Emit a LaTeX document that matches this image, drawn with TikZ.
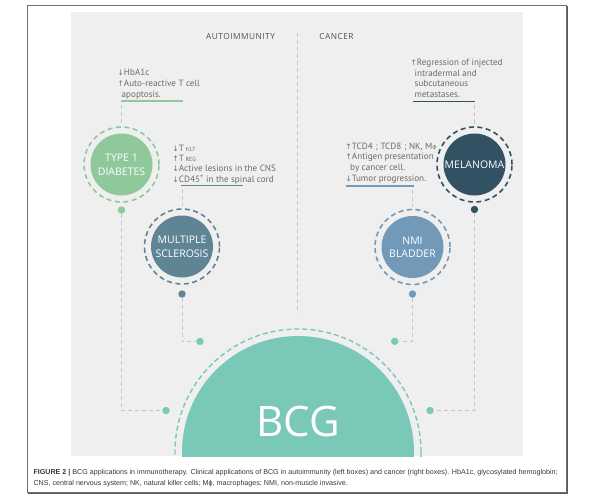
\documentclass[tikz,border=0pt]{standalone}
\usepackage{fontspec}
\setmainfont{Open Sans}
\newfontfamily\notefont{PT Sans}
\newfontfamily\arrfont{DejaVu Sans}
\newfontfamily\capfont{Liberation Sans}
\newfontfamily\ttlfont[LetterSpace=6]{Open Sans}
\newcommand\upar{{\arrfont\fontsize{7.5}{8}\selectfont ↑}}
\newcommand\dnar{{\arrfont\fontsize{7.5}{8}\selectfont ↓}}
\newcommand\smallsub[1]{{\fontsize{6}{6}\selectfont #1}}
\definecolor{panel}{HTML}{EFEFEF}
\definecolor{t1dc}{HTML}{8FC89A}
\definecolor{msc}{HTML}{5F8494}
\definecolor{melc}{HTML}{325263}
\definecolor{nmic}{HTML}{729AB8}
\definecolor{bcgc}{HTML}{79C8B8}
\definecolor{conng}{HTML}{C6C6C6}
\definecolor{txtg}{HTML}{6B6B6B}
\definecolor{ttlg}{HTML}{505050}
\definecolor{framec}{HTML}{707070}
\begin{document}
\begin{tikzpicture}[x=1pt,y=-1pt,
  notest/.style={font=\notefont\fontsize{9.1}{10}\selectfont, text=txtg, inner sep=0, anchor=base west},
  ttlst/.style={font=\ttlfont\fontsize{8.3}{9}\selectfont, text=ttlg, inner sep=0},
  discst/.style={circle, inner sep=0, minimum size=62pt, text=white, align=center, font=\fontsize{10.5}{14}\selectfont},
  ringst/.style={circle, draw, inner sep=0, minimum size=75pt, line width=1.6pt, dash pattern=on 5pt off 3.5pt},
  cdot/.style={circle, inner sep=0, minimum size=7.4pt},
  connst/.style={draw=conng, line width=1pt, dash pattern=on 4pt off 3pt},
  ulinest/.style={line width=1.5pt},
  capst/.style={font=\capfont\fontsize{7.15}{8}\selectfont, text=black!78, inner sep=0, anchor=base west}
]
\useasboundingbox (0,0) rectangle (599,500);
\fill[white] (0,0) rectangle (599,500);
% frame
\draw[framec, line width=1.2pt] (27.3,5.3) rectangle (566.7,492.7);
\draw[framec!80!black, line width=1pt] (567.4,6) -- (567.4,493.4) -- (28,493.4);
% panel
\fill[panel] (71,12) rectangle (523,456);
% titles
\node[ttlst] (autot) at (240.5,36.7) {AUTOIMMUNITY};
\node[ttlst] (cant) at (336.5,36.7) {CANCER};
\coordinate (ctop) at (297.7,33);
\coordinate (cbot) at (297.7,313);
\draw[connst] (ctop) -- (cbot);
% BCG
\begin{scope}
\clip (71,12) rectangle (523,456);
\fill[bcgc] (298,452) circle (116);
\draw[bcgc, line width=1.4pt, dash pattern=on 5pt off 3pt] (298,452) circle (123);
\end{scope}
\node[text=white, font=\fontsize{42}{42}\selectfont, inner sep=0] (bcg) at (298,421) {BCG};
% BCG dots
\node[cdot, fill=bcgc] (b1) at (166,410.5) {};
\node[cdot, fill=bcgc] (b2) at (200,341.5) {};
\node[cdot, fill=bcgc] (b3) at (394.7,341.3) {};
\node[cdot, fill=bcgc] (b4) at (430,410.5) {};
% Type 1 diabetes
\node[discst, fill=t1dc] (t1d) at (121.5,164.5) {TYPE 1\\DIABETES};
\node[ringst, draw=t1dc] (t1dring) at (121.5,164.5) {};
\node[cdot, fill=t1dc] (t1ddot) at (121.5,210) {};
\node[notest] (t1da) at (117.5,76) {\dnar HbA1c};
\node[notest] (t1db) at (117.5,86.7) {\upar Auto-reactive T cell};
\node[notest] (t1dc) at (121.5,97.3) {apoptosis.};
\coordinate (t1dl1) at (121,101);
\coordinate (t1dl2) at (183,101);
\draw[ulinest, t1dc] (t1dl1) -- (t1dl2);
\coordinate (t1dcs) at (121.5,105);
\draw[connst, shorten >=2pt] (t1dcs) -- (t1dring.north);
\coordinate (t1dk) at (121.5,410.5);
\draw[connst] (t1ddot) -- (t1dk) -- (b1);
% Multiple sclerosis
\node[discst, fill=msc] (ms) at (182,246.5) {MULTIPLE\\SCLEROSIS};
\node[ringst, draw=msc] (msring) at (182,246.5) {};
\node[cdot, fill=msc] (msdot) at (182,294) {};
\node[notest] (msa) at (172.5,151) {\dnar T\,\smallsub{h17}};
\node[notest] (msb) at (172.5,161.3) {\upar T\,\smallsub{REG}};
\node[notest] (msc1) at (172.5,171.6) {\dnar Active lesions in the CNS};
\node[notest] (msd) at (172.5,182) {\dnar CD45\textsuperscript{+} in the spinal cord};
\coordinate (msl1) at (181,185.5);
\coordinate (msl2) at (243,185.5);
\draw[ulinest, msc] (msl1) -- (msl2);
\coordinate (mscs) at (182,189);
\draw[connst, shorten >=2pt] (mscs) -- (msring.north);
\coordinate (msk) at (182,341.5);
\draw[connst] (msdot) -- (msk) -- (b2);
% Melanoma
\node[discst, fill=melc] (mel) at (474.5,164.5) {MELANOMA};
\node[ringst, draw=melc] (melring) at (474.5,164.5) {};
\node[cdot, fill=melc] (meldot) at (474.5,209.5) {};
\node[notest] (mela) at (410.5,65.7) {\upar Regression of injected};
\node[notest] (melb) at (414.5,76.4) {intradermal and};
\node[notest] (melc1) at (414.5,87) {subcutaneous};
\node[notest] (meld) at (414.5,97.7) {metastases.};
\coordinate (mell1) at (413,101.7);
\coordinate (mell2) at (475.3,101.7);
\draw[ulinest, melc] (mell1) -- (mell2);
\coordinate (melcs) at (474.5,105.5);
\draw[connst, shorten >=2pt] (melcs) -- (melring.north);
\coordinate (melk) at (474.5,410.5);
\draw[connst] (meldot) -- (melk) -- (b4);
% NMI bladder
\node[discst, fill=nmic, font=\fontsize{10.5}{12.5}\selectfont] (nmi) at (412.5,247) {NMI\\BLADDER};
\node[ringst, draw=nmic] (nmiring) at (412.5,247) {};
\node[cdot, fill=nmic] (nmidot) at (412.5,294) {};
\node[notest] (nmia) at (345.5,149) {\upar TCD4\,\,; TCD8\,\,; NK, M{\arrfont\fontsize{5.5}{6}\selectfont Φ}};
\node[notest] (nmib) at (345.5,159.7) {\upar Antigen presentation};
\node[notest] (nmic1) at (350,170.3) {by cancer cell.};
\node[notest] (nmid) at (345.5,181.2) {\dnar Tumor progression.};
\coordinate (nmil1) at (346,186);
\coordinate (nmil2) at (414,186);
\draw[ulinest, nmic] (nmil1) -- (nmil2);
\coordinate (nmics) at (412.5,189.5);
\draw[connst, shorten >=2pt] (nmics) -- (nmiring.north);
\coordinate (nmik) at (412.5,341.3);
\draw[connst] (nmidot) -- (nmik) -- (b3);
% caption
\node[capst] (cap1) at (33.3,474.6) {\textbf{FIGURE 2 |} BCG applications in immunotherapy. Clinical applications of BCG in autoimmunity (left boxes) and cancer (right boxes). HbA1c, glycosylated hemoglobin;};
\node[capst] (cap2) at (33.3,485) {CNS, central nervous system; NK, natural killer cells; Mϕ, macrophages; NMI, non-muscle invasive.};
\end{tikzpicture}
\end{document}
